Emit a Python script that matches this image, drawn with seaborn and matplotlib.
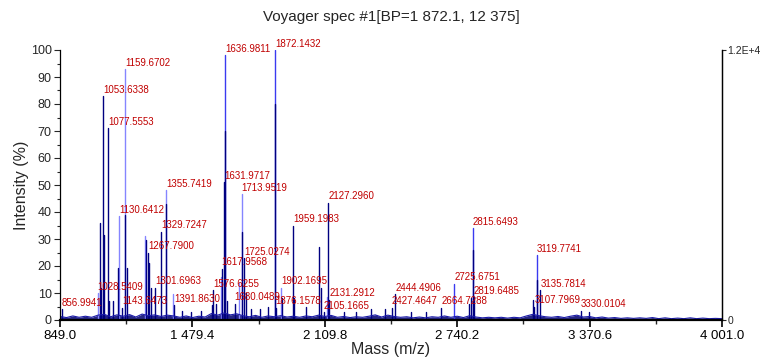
import numpy as np
import pandas as pd
import matplotlib
matplotlib.use("Agg")
import matplotlib.pyplot as plt
import seaborn as sns
from matplotlib.ticker import FixedLocator

# ---------------- data ----------------
title = "Voyager spec #1[BP=1 872.1, 12 375]"
x_label = "Mass (m/z)"
y_label = "Intensity (%)"
x_min, x_max = 849.0, 4001.0
x_ticks = [849.0, 1479.4, 2109.8, 2740.2, 3370.6, 4001.0]
x_tick_labels = ["849.0", "1 479.4", "2 109.8", "2 740.2", "3 370.6", "4 001.0"]
x_minor_ticks = [1164.2, 1794.6, 2425.0, 3055.4, 3685.8]
y_ticks = [0, 10, 20, 30, 40, 50, 60, 70, 80, 90, 100]
right_tick_labels = ["0", "1.2E+4"]

# dark (navy) trace peaks
dark_mz = [856.99, 1039.5, 1044.0, 1053.63, 1060.0, 1077.56, 1084.0, 1103.0, 1127.0,
           1143.65, 1158.5, 1166.6, 1258.0, 1267.79, 1272.0, 1280.0, 1301.70, 1329.72,
           1355.74, 1391.86, 1430.0, 1475.0, 1520.0, 1571.0, 1576.63, 1590.0, 1617.96,
           1631.97, 1636.98, 1645.0, 1680.05, 1717.0, 1725.03, 1735.0, 1760.0, 1800.0,
           1840.0, 1872.14, 1876.16, 1906.0, 1959.20, 1962.0, 2020.0, 2082.0, 2090.0,
           2105.17, 2127.30, 2131.29, 2200.0, 2260.0, 2330.0, 2395.0, 2427.46, 2444.49,
           2520.0, 2590.0, 2664.73, 2796.0, 2806.0, 2815.65, 2819.65, 3101.0, 3107.80,
           3119.77, 3135.78, 3330.01, 3370.0]
dark_pct = [4.0, 36.0, 12.0, 83.0, 31.5, 71.0, 7.0, 7.0, 19.4,
            4.5, 39.0, 19.4, 29.6, 25.0, 21.0, 12.0, 12.0, 32.7,
            43.0, 5.5, 3.5, 3.0, 3.5, 5.5, 11.0, 6.0, 19.0,
            51.0, 70.0, 7.0, 6.0, 32.7, 23.0, 10.0, 4.0, 4.0,
            5.0, 80.0, 4.5, 8.0, 35.0, 8.0, 5.0, 27.0, 12.0,
            3.0, 43.5, 7.5, 3.0, 3.0, 4.0, 4.0, 4.5, 9.5,
            3.0, 3.0, 4.5, 6.0, 8.0, 26.0, 8.5, 7.4, 5.0,
            15.0, 11.0, 3.5, 3.0]

# light (lilac) trace peaks
light_mz = [1028.54, 1130.64, 1159.67, 1255.0, 1355.74, 1385.7, 1614.0, 1702.8,
            1713.95, 1902.17, 2119.0]
light_pct = [10.0, 38.5, 92.8, 31.0, 48.0, 9.6, 16.0, 13.7,
             46.5, 12.0, 8.6]

# bright blue trace peak tops
blue_mz = [1636.98, 1872.14, 2725.68, 2815.65, 3119.77]
blue_pct = [98.0, 100.0, 13.5, 34.0, 24.0]

# baseline noise (read approximately)
base_mz = [850, 880, 910, 940, 970, 1000, 1030, 1060, 1090, 1120, 1150, 1180, 1210, 1240,
           1270, 1300, 1330, 1360, 1390, 1420, 1450, 1480, 1510, 1540, 1570, 1600, 1630,
           1660, 1690, 1720, 1750, 1780, 1810, 1840, 1870, 1900, 1930, 1960, 1990, 2020,
           2050, 2080, 2110, 2140, 2170, 2200, 2230, 2260, 2290, 2320, 2350, 2380, 2410,
           2440, 2470, 2500, 2530, 2560, 2590, 2620, 2650, 2680, 2710, 2740, 2770, 2800,
           2830, 2860, 2890, 2920, 2950, 2980, 3010, 3040, 3070, 3100, 3130, 3160, 3190,
           3220, 3250, 3280, 3310, 3340, 3370, 3400, 3430, 3460, 3490, 3520, 3550, 3580,
           3610, 3640, 3670, 3700, 3730, 3760, 3790, 3820, 3850, 3880, 3910, 3940, 3970,
           4000]
base_pct = [1.3, 0.9, 1.5, 1.0, 1.4, 1.0, 1.8, 2.1, 1.2, 1.9, 1.4, 2.0, 1.1, 2.2,
            1.6, 1.9, 1.3, 1.8, 1.5, 1.0, 1.5, 0.9, 1.4, 1.1, 2.4, 1.8, 2.6,
            1.9, 2.3, 1.6, 1.2, 1.7, 1.0, 1.5, 1.2, 1.6, 1.1, 1.4, 1.0, 1.5,
            1.2, 1.8, 1.3, 1.7, 1.0, 1.3, 0.9, 1.2, 1.0, 1.4, 1.9, 1.1, 1.8,
            1.3, 1.0, 1.2, 0.8, 1.1, 0.8, 1.2, 1.0, 1.5, 1.0, 1.4, 0.9, 1.6,
            1.1, 0.8, 1.0, 0.8, 1.0, 0.7, 1.0, 0.8, 1.5, 2.1, 1.6, 1.2, 1.0,
            1.3, 0.9, 1.4, 1.8, 1.1, 1.3, 0.8, 1.1, 0.7, 0.9, 0.6, 0.8, 0.6,
            0.8, 0.6, 0.9, 0.5, 0.8, 0.5, 0.7, 0.5, 0.8, 0.5, 0.7, 0.5, 0.6,
            0.5]

# labelled peaks
label_mz = [856.9941, 1028.5409, 1053.6338, 1077.5553, 1130.6412, 1143.6473, 1159.6702,
            1267.7900, 1301.6963, 1329.7247, 1355.7419, 1391.8630, 1576.6255, 1617.9568,
            1631.9717, 1636.9811, 1680.0489, 1713.9519, 1725.0274, 1872.1432, 1876.1578,
            1902.1695, 1959.1983, 2105.1665, 2127.2960, 2131.2912, 2427.4647, 2444.4906,
            2664.7288, 2725.6751, 2815.6493, 2819.6485, 3107.7969, 3119.7741, 3135.7814,
            3330.0104]
label_pct = [4.0, 10.0, 83.0, 71.0, 38.5, 4.5, 92.8,
             25.0, 12.0, 32.7, 48.0, 5.5, 11.0, 19.0,
             51.0, 98.0, 6.0, 46.5, 23.0, 100.0, 4.5,
             12.0, 35.0, 3.0, 43.5, 7.5, 4.5, 9.5,
             4.5, 13.5, 34.0, 8.5, 5.0, 24.0, 11.0,
             3.5]

# ---------------- drawing ----------------
sns.set_style("white")
plt.rcParams["font.family"] = ["Liberation Sans", "DejaVu Sans"]

fig = plt.figure(figsize=(7.69, 3.60), dpi=100)
ax = fig.add_axes([60 / 769, 40 / 360, 662 / 769, 270 / 360])


def stems(mz, pct):
    rows = []
    for i, (m, p) in enumerate(zip(mz, pct)):
        rows.append({"mz": m, "pct": 0.0, "pid": i})
        rows.append({"mz": m, "pct": p, "pid": i})
    return pd.DataFrame(rows)


sns.lineplot(data=stems(light_mz, light_pct), x="mz", y="pct", units="pid",
             estimator=None, sort=False, color="#8585ff", lw=1.0, ax=ax, legend=False)
sns.lineplot(data=stems(blue_mz, blue_pct), x="mz", y="pct", units="pid",
             estimator=None, sort=False, color="#3a3af0", lw=1.0, ax=ax, legend=False)
sns.lineplot(data=stems(dark_mz, dark_pct), x="mz", y="pct", units="pid",
             estimator=None, sort=False, color="#000080", lw=1.0, ax=ax, legend=False)

base_df = pd.DataFrame({"mz": base_mz, "pct": base_pct})
ax.fill_between(base_df["mz"], 0, base_df["pct"], color="#000070", alpha=0.85, lw=0)
sns.lineplot(data=base_df, x="mz", y="pct", color="#1a1aa8", lw=0.8, ax=ax,
             estimator=None, legend=False)

for m, p in zip(label_mz, label_pct):
    ax.annotate(f"{m:.4f}", xy=(m, p), xytext=(0, 1), textcoords="offset points",
                ha="left", va="bottom", fontsize=7, color="#c00000")

ax.set_xlim(x_min, x_max)
ax.set_ylim(0, 100)
ax.xaxis.set_major_locator(FixedLocator(x_ticks))
ax.xaxis.set_minor_locator(FixedLocator(x_minor_ticks))
ax.set_xticklabels(x_tick_labels, fontsize=9.5)
ax.set_yticks(y_ticks)
ax.set_yticks([5, 15, 25, 35, 45, 55, 65, 75, 85, 95], minor=True)
ax.set_yticklabels([str(v) for v in y_ticks], fontsize=9)
ax.tick_params(axis="x", which="major", direction="out", length=5, width=1.2, pad=2,
               bottom=True, colors="black")
ax.tick_params(axis="x", which="minor", direction="out", length=3, width=1.0, bottom=True)
ax.tick_params(axis="y", which="major", direction="out", length=4, width=0.8, pad=2, left=True)
ax.tick_params(axis="y", which="minor", direction="out", length=2, width=0.8, left=True)

ax.spines["top"].set_visible(False)
ax.spines["left"].set_linewidth(0.9)
ax.spines["bottom"].set_linewidth(1.6)
ax.spines["right"].set_linewidth(0.9)
for s in ax.spines.values():
    s.set_color("black")

ax.set_xlabel(x_label, fontsize=11.5, labelpad=0)
ax.set_ylabel(y_label, fontsize=11.5, labelpad=1)
ax.set_title(title, fontsize=11, pad=21)

ax2 = ax.twinx()
ax2.set_ylim(0, 100)
ax2.set_yticks([0, 100])
ax2.set_yticklabels(right_tick_labels, fontsize=7.5)
ax2.tick_params(axis="y", direction="out", length=3, width=0.8, pad=1, right=True)
ax2.spines["top"].set_visible(False)
ax2.spines["left"].set_visible(False)
ax2.spines["bottom"].set_visible(False)
ax2.spines["right"].set_linewidth(0.9)
ax2.spines["right"].set_color("black")
ax2.grid(False)
ax.grid(False)

fig.savefig("out.png", dpi=100, facecolor="white")
